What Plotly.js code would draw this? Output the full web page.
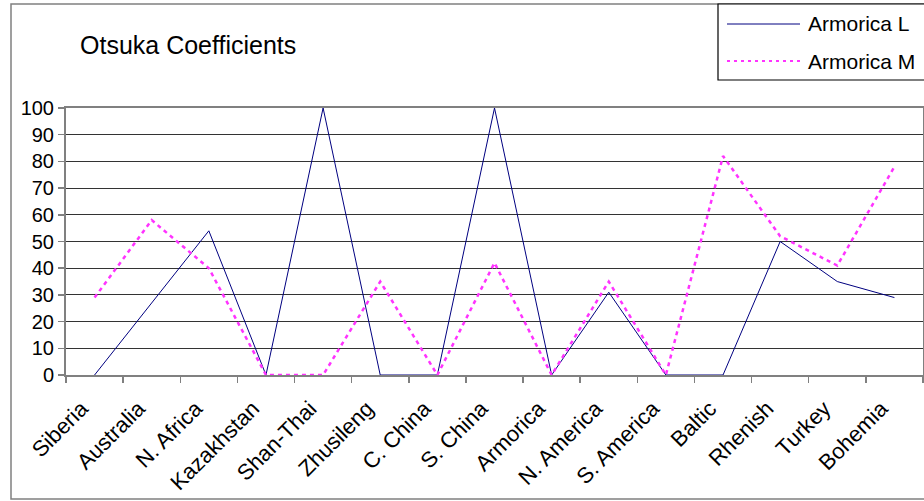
<!DOCTYPE html>
<html>
<head>
<meta charset="utf-8">
<script src="https://cdn.plot.ly/plotly-3.0.1.min.js"></script>
<style>
  html, body { margin: 0; padding: 0; background: #fff; }
  #chart { width: 924px; height: 501px; }
</style>
</head>
<body>
<div id="chart"></div>
<script>
// Otsuka coefficients per region, two Armorica series
const regions = ["Siberia", "Australia", "N. Africa", "Kazakhstan", "Shan-Thai", "Zhusileng",
  "C. China", "S. China", "Armorica", "N. America", "S. America", "Baltic", "Rhenish", "Turkey", "Bohemia"];
const armoricaL = [0, 27, 54, 0, 100, 0, 0, 100, 0, 31, 0, 0, 50, 35, 29];
const armoricaM = [29, 58, 40, 0, 0, 35, 0, 42, 0, 35, 0, 82, 52, 41, 78];
const seriesNames = ["Armorica L", "Armorica M"];
const yTicks = [0, 10, 20, 30, 40, 50, 60, 70, 80, 90, 100];

const FONT = "Liberation Sans, Arial, sans-serif";
const BLUE = "#000080";
const MAGENTA = "#ff33ff";

// plot-area geometry in page pixels, used to place the frame and legend
const L = 66, R = 923, T = 108, B = 375;
const px = x => (x - L) / (R - L);
const py = y => (B - y) / (B - T);

const traces = [
  {
    x: regions, y: armoricaL, name: seriesNames[0], type: "scatter", mode: "lines",
    line: { color: BLUE, width: 1 }, showlegend: false
  },
  {
    x: regions, y: armoricaM, name: seriesNames[1], type: "scatter", mode: "lines",
    line: { color: MAGENTA, width: 2.5, dash: "4px,4px" }, showlegend: false
  }
];

const shapes = [
  // chart frame
  { type: "rect", xref: "paper", yref: "paper", x0: px(11), x1: px(960), y0: py(499), y1: py(4),
    line: { color: "#808080", width: 1.5 }, layer: "below" },
  // legend box
  { type: "rect", xref: "paper", yref: "paper", x0: px(718), x1: px(960), y0: py(80), y1: py(4),
    line: { color: "#000", width: 1.2 }, fillcolor: "#fff" },
  // legend samples
  { type: "line", xref: "paper", yref: "paper", x0: px(727), x1: px(800), y0: py(24), y1: py(24),
    line: { color: BLUE, width: 1 } },
  { type: "line", xref: "paper", yref: "paper", x0: px(727), x1: px(800), y0: py(61), y1: py(61),
    line: { color: MAGENTA, width: 2, dash: "3px,4px" } }
];

const annotations = [
  { text: "Otsuka Coefficients", xref: "paper", yref: "paper", x: px(78), y: py(45),
    xanchor: "left", yanchor: "middle", showarrow: false,
    font: { family: FONT, size: 25, color: "#000" } },
  { text: seriesNames[0], xref: "paper", yref: "paper", x: px(806), y: py(24),
    xanchor: "left", yanchor: "middle", showarrow: false,
    font: { family: FONT, size: 21, color: "#000" } },
  { text: seriesNames[1], xref: "paper", yref: "paper", x: px(806), y: py(61),
    xanchor: "left", yanchor: "middle", showarrow: false,
    font: { family: FONT, size: 21, color: "#000" } }
];

const layout = {
  width: 924, height: 501,
  margin: { l: L, r: 924 - R, t: T, b: 501 - B, pad: 0 },
  paper_bgcolor: "#fff", plot_bgcolor: "#fff",
  font: { family: FONT, color: "#000" },
  showlegend: false,
  xaxis: {
    type: "category", range: [-0.5, regions.length - 0.5], fixedrange: true,
    tickangle: -45, tickfont: { family: FONT, size: 22, color: "#000" },
    ticks: "outside", tickson: "boundaries", ticklen: 6, tickcolor: "#808080", tickwidth: 1.5,
    ticklabelstandoff: 10, ticklabelshift: -13,
    showgrid: false, showline: true, linecolor: "#808080", linewidth: 2, mirror: true,
    zeroline: false, automargin: false
  },
  yaxis: {
    range: [0, 100], tickvals: yTicks, fixedrange: true,
    tickfont: { family: FONT, size: 20, color: "#000" },
    ticks: "outside", ticklen: 6, tickcolor: "#808080", tickwidth: 1.5,
    showgrid: true, gridcolor: "#333", gridwidth: 1,
    showline: true, linecolor: "#808080", linewidth: 2, mirror: true,
    zeroline: false, automargin: false
  },
  shapes: shapes,
  annotations: annotations
};

Plotly.newPlot("chart", traces, layout, { displayModeBar: false, staticPlot: true });
</script>
</body>
</html>
